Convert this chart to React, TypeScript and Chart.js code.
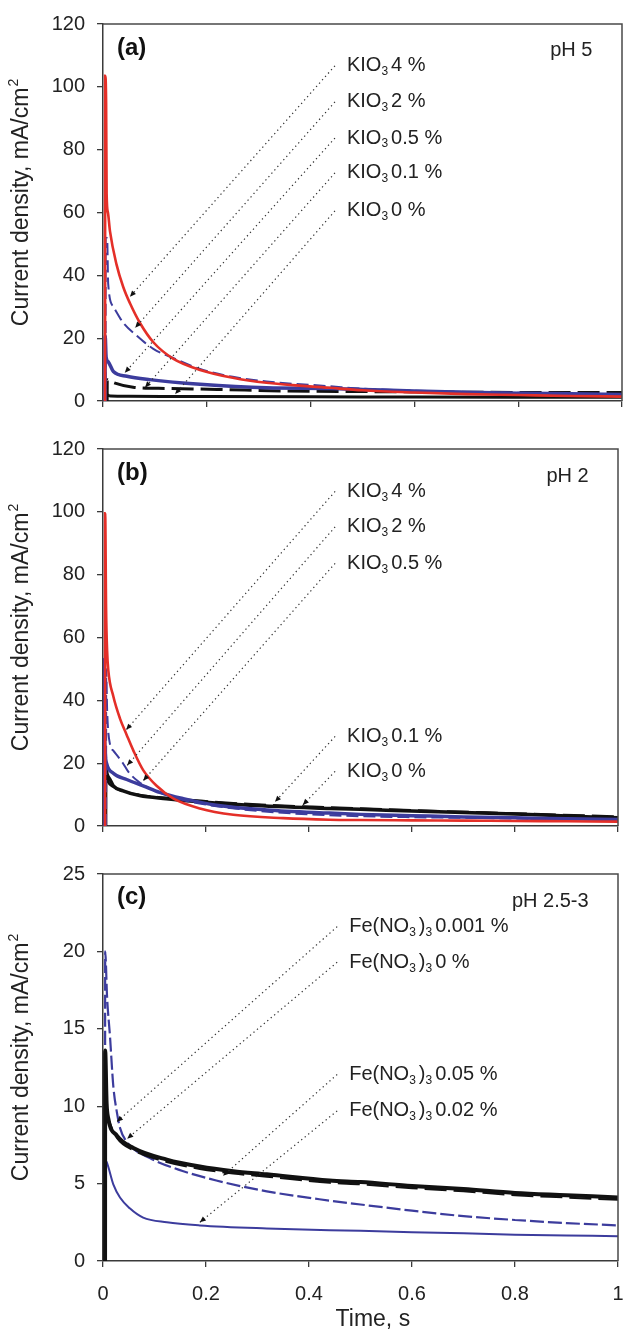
import React, { useEffect, useRef } from 'react';
import { Chart, registerables } from 'chart.js';

Chart.register(...registerables);

const FONT = 'Arial, "Liberation Sans", Helvetica, sans-serif';
const RED = '#e42f28';
const BLUE = '#3c3c9d';
const BLACK = '#111111';
const AXIS = '#3a3a3a';
const TEXT = '#222222';

// ---------- axis ticks ----------
const X_MIN = 0;
const X_MAX = 1;
const X_STEP = 0.2;
const Y_MAX_AB = 120;
const Y_STEP_AB = 20;
const Y_MAX_C = 25;
const Y_STEP_C = 5;

// ---------- Panel (a) pH 5 ----------
const A_KIO3_4_T = [0.004, 0.0042, 0.006, 0.007, 0.0095, 0.0135, 0.026, 0.039, 0.052, 0.071, 0.097, 0.135, 0.187, 0.25, 0.315, 0.437, 0.5, 0.6, 0.7, 0.8, 0.9, 1.0];
const A_KIO3_4_V = [0, 103.5, 95, 66, 60, 54, 43.5, 36.3, 31.1, 24.9, 18.7, 13.5, 9.9, 7.4, 5.8, 4.2, 3.4, 2.7, 2.2, 1.9, 1.6, 1.4];
const A_KIO3_2_T = [0.005, 0.0052, 0.008, 0.01, 0.02, 0.039, 0.065, 0.097, 0.135, 0.187, 0.25, 0.315, 0.437, 0.5, 0.6, 0.7, 0.8, 0.9, 1.0];
const A_KIO3_2_V = [0, 52, 51.8, 37.3, 30, 24.9, 20.8, 16.6, 13.7, 10.2, 7.7, 6.2, 4.7, 3.9, 3.3, 2.9, 2.6, 2.3, 2.1];
const A_KIO3_05_T = [0.004, 0.0042, 0.006, 0.01, 0.02, 0.046, 0.09, 0.187, 0.315, 0.437, 0.5, 0.6, 0.7, 0.8, 0.9, 1.0];
const A_KIO3_05_V = [0, 20.8, 14, 12.5, 9.4, 7.9, 6.8, 5.3, 4.2, 4.0, 3.7, 3.2, 2.8, 2.5, 2.3, 2.1];
const A_KIO3_01_T = [0.008, 0.0082, 0.0135, 0.058, 0.122, 0.22, 0.35, 0.5, 0.7, 0.85, 1.0];
const A_KIO3_01_V = [0, 6.8, 6.3, 4.4, 4.0, 3.7, 3.2, 3.0, 2.8, 2.7, 2.7];
const A_KIO3_0_T = [0.005, 0.0052, 0.008, 0.015, 0.05, 0.2, 0.5, 0.8, 1.0];
const A_KIO3_0_V = [0, 3, 2, 1.6, 1.5, 1.4, 1.3, 1.2, 1.2];

const A_LABEL_TEXT = ['4 %', '2 %', '0.5 %', '0.1 %', '0 %'];
const A_LABEL_T = 0.47;
const A_LABEL_V = [106.7, 95.2, 83.7, 72.6, 60.5];
const A_ARROW_T = [0.052, 0.062, 0.042, 0.081, 0.139];
const A_ARROW_V = [33.2, 23.3, 9.0, 4.3, 2.2];

// ---------- Panel (b) pH 2 ----------
const B_KIO3_4_T = [0.004, 0.0042, 0.006, 0.008, 0.0103, 0.02, 0.033, 0.046, 0.059, 0.078, 0.104, 0.137, 0.188, 0.253, 0.35, 0.44, 0.5, 0.6, 0.7, 0.8, 0.9, 1.0];
const B_KIO3_4_V = [0, 99.5, 69, 55.7, 49.5, 41.3, 34.2, 29, 24, 17.8, 12.8, 8.7, 5.6, 3.6, 2.5, 2.0, 1.9, 1.8, 1.7, 1.6, 1.5, 1.4];
const B_KIO3_2_T = [0.006, 0.0062, 0.008, 0.0136, 0.02, 0.039, 0.049, 0.07, 0.1, 0.15, 0.2, 0.3, 0.4, 0.5, 0.6, 0.7, 0.8, 0.9, 1.0];
const B_KIO3_2_V = [0, 50, 37, 26, 24, 19.9, 17.3, 14, 11.3, 8.5, 6.8, 4.8, 3.7, 3.1, 2.8, 2.6, 2.4, 2.2, 2.1];
const B_KIO3_05_T = [0.002, 0.0022, 0.003, 0.007, 0.02, 0.046, 0.078, 0.11, 0.156, 0.22, 0.318, 0.44, 0.5, 0.6, 0.7, 0.8, 0.9, 1.0];
const B_KIO3_05_V = [0, 53, 30, 19.9, 16.8, 14.8, 12.8, 10.7, 8.7, 6.6, 5.1, 4.1, 3.7, 3.3, 2.9, 2.6, 2.3, 2.1];
const B_KIO3_01_T = [0.005, 0.0052, 0.01, 0.02, 0.04, 0.07, 0.12, 0.19, 0.29, 0.44, 0.6, 0.8, 1.0];
const B_KIO3_01_V = [0, 17, 14, 12.5, 11, 9.9, 9.0, 8.0, 6.9, 5.9, 5.0, 4.0, 3.0];
const B_KIO3_0_T = [0.005, 0.0052, 0.008, 0.0136, 0.02, 0.039, 0.071, 0.123, 0.187, 0.285, 0.44, 0.5, 0.6, 0.7, 0.8, 0.9, 1.0];
const B_KIO3_0_V = [0, 19, 16.5, 14.8, 12.8, 11.2, 9.7, 8.7, 7.7, 6.6, 5.6, 5.3, 4.8, 4.3, 3.8, 3.2, 2.6];

const B_LABEL_TEXT = ['4 %', '2 %', '0.5 %', '0.1 %', '0 %'];
const B_LABEL_T = 0.474;
const B_LABEL_V = [106.5, 95.2, 83.6, 28.5, 17.4];
const B_ARROW_T = [0.045, 0.047, 0.078, 0.334, 0.388];
const B_ARROW_V = [30.6, 19.3, 14.4, 7.7, 6.7];

// ---------- Panel (c) pH 2.5-3 ----------
const C_FE_0001_T = [0.004, 0.0042, 0.008, 0.0136, 0.02, 0.027, 0.033, 0.046, 0.091, 0.156, 0.22, 0.318, 0.44, 0.5, 0.6, 0.7, 0.8, 0.9, 1.0];
const C_FE_0001_V = [0, 20, 17, 14.5, 11.3, 9.6, 8.6, 7.7, 6.65, 5.8, 5.2, 4.5, 3.9, 3.65, 3.25, 2.9, 2.65, 2.45, 2.3];
const C_FE_0_T = [0.004, 0.0042, 0.007, 0.0103, 0.027, 0.059, 0.124, 0.188, 0.253, 0.318, 0.44, 0.5, 0.6, 0.7, 0.8, 0.9, 1.0];
const C_FE_0_V = [0, 13.6, 10.2, 9.2, 8.1, 7.3, 6.55, 6.1, 5.8, 5.6, 5.2, 5.1, 4.85, 4.65, 4.4, 4.25, 4.1];
const C_FE_005_T = [0.005, 0.0052, 0.008, 0.0136, 0.027, 0.059, 0.124, 0.188, 0.253, 0.318, 0.44, 0.5, 0.6, 0.7, 0.8, 0.9, 1.0];
const C_FE_005_V = [0, 11.5, 9.6, 8.9, 7.95, 7.15, 6.4, 5.95, 5.65, 5.45, 5.05, 4.95, 4.7, 4.5, 4.25, 4.1, 3.95];
const C_FE_002_T = [0.004, 0.0042, 0.007, 0.02, 0.033, 0.052, 0.078, 0.124, 0.188, 0.318, 0.44, 0.5, 0.6, 0.7, 0.8, 0.9, 1.0];
const C_FE_002_V = [0, 6.5, 6.4, 4.95, 4.1, 3.4, 2.8, 2.5, 2.3, 2.1, 1.98, 1.95, 1.85, 1.8, 1.7, 1.65, 1.6];

const C_LABEL_TEXT = ['0.001 %', '0 %', '0.05 %', '0.02 %'];
const C_LABEL_T = 0.478;
const C_LABEL_V = [21.6, 19.3, 12.05, 9.7];
const C_ARROW_T = [0.027, 0.047, 0.233, 0.188];
const C_ARROW_V = [9.0, 7.9, 5.5, 2.5];

const Y_TITLE = 'Current density, mA/cm';
const Y_TITLE_SUP = '2';
const X_TITLE = 'Time, s';

// ---------- helpers ----------
type Seg = { s: string; sub?: boolean };
const kio3 = (rest: string): Seg[] => [{ s: 'KIO' }, { s: '3', sub: true }, { s: rest }];
const feno = (rest: string): Seg[] => [{ s: 'Fe(NO' }, { s: '3', sub: true }, { s: ')' }, { s: '3', sub: true }, { s: rest }];

const pts = (t: number[], v: number[]) => t.map((x, i) => ({ x, y: v[i] }));

const line = (t: number[], v: number[], color: string, width: number, dash: number[] = []) => ({
  data: pts(t, v),
  borderColor: color,
  backgroundColor: color,
  borderWidth: width,
  borderDash: dash,
  pointRadius: 0,
  fill: false,
  cubicInterpolationMode: 'monotone' as const,
});

type Label = { parts: Seg[]; t: number; v: number; at: number; av: number };

interface PanelCfg {
  top: number;
  height: number;
  padTop: number;
  padRight: number;
  xAxisH: number;
  yMax: number;
  yStep: number;
  showX: boolean;
  datasets: any[];
  labels: Label[];
  tag: string;
  tagV: number;
  ph: string;
  phV: number;
}

const mkLabels = (texts: string[], lt: number, lv: number[], at: number[], av: number[], f: (r: string) => Seg[]): Label[] =>
  texts.map((s, i) => ({ parts: f(s), t: lt, v: lv[i], at: at[i], av: av[i] }));

const PANELS: PanelCfg[] = [
  {
    top: 0, height: 425, padTop: 20, padRight: 2, xAxisH: 18, yMax: Y_MAX_AB, yStep: Y_STEP_AB, showX: false,
    datasets: [
      line(A_KIO3_4_T, A_KIO3_4_V, RED, 2.6),
      line(A_KIO3_2_T, A_KIO3_2_V, BLUE, 2, [12, 5]),
      line(A_KIO3_05_T, A_KIO3_05_V, BLUE, 3.5),
      line(A_KIO3_01_T, A_KIO3_01_V, BLACK, 3, [22, 7]),
      line(A_KIO3_0_T, A_KIO3_0_V, BLACK, 3),
    ],
    labels: mkLabels(A_LABEL_TEXT, A_LABEL_T, A_LABEL_V, A_ARROW_T, A_ARROW_V, kio3),
    tag: '(a)', tagV: 112.2, ph: 'pH 5', phV: 111.5,
  },
  {
    top: 425, height: 425, padTop: 18, padRight: 6, xAxisH: 15, yMax: Y_MAX_AB, yStep: Y_STEP_AB, showX: false,
    datasets: [
      line(B_KIO3_4_T, B_KIO3_4_V, RED, 2.6),
      line(B_KIO3_2_T, B_KIO3_2_V, BLUE, 2, [12, 5]),
      line(B_KIO3_05_T, B_KIO3_05_V, BLUE, 3.5),
      line(B_KIO3_01_T, B_KIO3_01_V, BLACK, 2.5, [22, 7]),
      line(B_KIO3_0_T, B_KIO3_0_V, BLACK, 3.5),
    ],
    labels: mkLabels(B_LABEL_TEXT, B_LABEL_T, B_LABEL_V, B_ARROW_T, B_ARROW_V, kio3),
    tag: '(b)', tagV: 112.3, ph: 'pH 2', phV: 111.1,
  },
  {
    top: 850, height: 480, padTop: 19, padRight: 6, xAxisH: 69, yMax: Y_MAX_C, yStep: Y_STEP_C, showX: true,
    datasets: [
      line(C_FE_0_T, C_FE_0_V, BLACK, 4),
      line(C_FE_005_T, C_FE_005_V, BLACK, 2, [22, 7]),
      line(C_FE_0001_T, C_FE_0001_V, BLUE, 2.2, [14, 4]),
      line(C_FE_002_T, C_FE_002_V, BLUE, 2),
    ],
    labels: mkLabels(C_LABEL_TEXT, C_LABEL_T, C_LABEL_V, C_ARROW_T, C_ARROW_V, feno),
    tag: '(c)', tagV: 23.5, ph: 'pH 2.5-3', phV: 23.2,
  },
];

function drawRich(ctx: CanvasRenderingContext2D, parts: Seg[], x: number, y: number) {
  let cx = x;
  for (const p of parts) {
    if (p.sub) {
      ctx.font = `12px ${FONT}`;
      ctx.fillText(p.s, cx, y + 6);
      cx += ctx.measureText(p.s).width + 3;
    } else {
      ctx.font = `20px ${FONT}`;
      ctx.fillText(p.s, cx, y);
      cx += ctx.measureText(p.s).width;
    }
  }
}

function makeOverlay(cfg: PanelCfg) {
  return {
    id: 'overlay',
    afterDraw(chart: any) {
      const { ctx, chartArea: ca, scales } = chart;
      const xs = scales.x;
      const ys = scales.y;
      ctx.save();
      // frame (top + right)
      ctx.strokeStyle = '#4a4a4a';
      ctx.lineWidth = 1.5;
      ctx.setLineDash([]);
      ctx.beginPath();
      ctx.moveTo(ca.left, ca.top);
      ctx.lineTo(ca.right, ca.top);
      ctx.lineTo(ca.right, ca.bottom);
      ctx.stroke();

      // y-axis title with superscript
      ctx.save();
      const cy = (ca.top + ca.bottom) / 2 - 10;
      ctx.translate(22, cy);
      ctx.rotate(-Math.PI / 2);
      ctx.fillStyle = TEXT;
      ctx.textBaseline = 'middle';
      ctx.textAlign = 'left';
      ctx.font = `23px ${FONT}`;
      const w1 = ctx.measureText(Y_TITLE).width;
      ctx.font = `14px ${FONT}`;
      const w2 = ctx.measureText(Y_TITLE_SUP).width;
      const x0 = -(w1 + w2 + 1) / 2;
      ctx.font = `23px ${FONT}`;
      ctx.fillText(Y_TITLE, x0, 0);
      ctx.font = `14px ${FONT}`;
      ctx.fillText(Y_TITLE_SUP, x0 + w1 + 1, -8);
      ctx.restore();

      // x-axis title (bottom panel only)
      if (cfg.showX) {
        ctx.font = `23px ${FONT}`;
        ctx.fillStyle = TEXT;
        ctx.textAlign = 'center';
        ctx.textBaseline = 'middle';
        ctx.fillText(X_TITLE, ca.left + (ca.right - ca.left) * 0.524, ca.bottom + 59);
      }

      // annotation labels with dotted leader lines
      ctx.fillStyle = TEXT;
      ctx.textBaseline = 'middle';
      ctx.textAlign = 'left';
      for (const l of cfg.labels) {
        const tx = xs.getPixelForValue(l.t);
        const ty = ys.getPixelForValue(l.v);
        const ax = xs.getPixelForValue(l.at);
        const ay = ys.getPixelForValue(l.av);
        const sx = tx - 12;
        const sy = ty;
        ctx.strokeStyle = '#333';
        ctx.lineWidth = 1.2;
        ctx.setLineDash([1.3, 3.2]);
        ctx.beginPath();
        ctx.moveTo(sx, sy);
        ctx.lineTo(ax, ay);
        ctx.stroke();
        ctx.setLineDash([]);
        const ang = Math.atan2(ay - sy, ax - sx);
        const len = 6;
        const hw = 2.6;
        ctx.fillStyle = '#111';
        ctx.beginPath();
        ctx.moveTo(ax, ay);
        ctx.lineTo(ax - len * Math.cos(ang) + hw * Math.sin(ang), ay - len * Math.sin(ang) - hw * Math.cos(ang));
        ctx.lineTo(ax - len * Math.cos(ang) - hw * Math.sin(ang), ay - len * Math.sin(ang) + hw * Math.cos(ang));
        ctx.closePath();
        ctx.fill();
        ctx.fillStyle = TEXT;
        drawRich(ctx, l.parts, tx, ty);
      }

      // panel tag
      ctx.font = `bold 24px ${FONT}`;
      ctx.fillStyle = '#111';
      ctx.textAlign = 'left';
      ctx.fillText(cfg.tag, ca.left + 14, ys.getPixelForValue(cfg.tagV));

      // pH label
      ctx.font = `20px ${FONT}`;
      ctx.fillStyle = TEXT;
      ctx.textAlign = 'right';
      ctx.fillText(cfg.ph, ca.left + (ca.right - ca.left) * 0.943, ys.getPixelForValue(cfg.phV));
      ctx.restore();
    },
  };
}

function Panel({ cfg }: { cfg: PanelCfg }) {
  const ref = useRef<HTMLCanvasElement>(null);
  useEffect(() => {
    const chart = new Chart(ref.current as HTMLCanvasElement, {
      type: 'line',
      data: { datasets: cfg.datasets },
      options: {
        animation: false,
        responsive: false,
        maintainAspectRatio: false,
        layout: { padding: { top: cfg.padTop, right: cfg.padRight, left: 0, bottom: 0 } },
        plugins: { legend: { display: false }, tooltip: { enabled: false } },
        scales: {
          x: {
            type: 'linear',
            min: X_MIN,
            max: X_MAX,
            ticks: {
              stepSize: X_STEP,
              display: cfg.showX,
              color: TEXT,
              font: { family: FONT, size: 20 },
              padding: 15,
              maxRotation: 0,
              callback: (v: any) => String(Math.round(Number(v) * 10) / 10),
            },
            grid: { drawOnChartArea: false, drawTicks: true, tickLength: 6, color: AXIS, lineWidth: 1.3 },
            border: { display: true, color: AXIS, width: 1.5 },
            title: { display: false },
            afterFit: (s: any) => {
              s.height = cfg.xAxisH;
              s.paddingLeft = 0;
              s.paddingRight = 0;
            },
          },
          y: {
            type: 'linear',
            min: 0,
            max: cfg.yMax,
            ticks: {
              stepSize: cfg.yStep,
              color: TEXT,
              font: { family: FONT, size: 20 },
              padding: 12,
            },
            grid: { drawOnChartArea: false, drawTicks: true, tickLength: 6, color: AXIS, lineWidth: 1.3 },
            border: { display: true, color: AXIS, width: 1.5 },
            title: { display: false },
            afterFit: (s: any) => {
              s.width = 103;
            },
          },
        },
      } as any,
      plugins: [makeOverlay(cfg)],
    });
    return () => chart.destroy();
  }, [cfg]);
  return (
    <canvas
      ref={ref}
      width={624}
      height={cfg.height}
      style={{ position: 'absolute', left: 0, top: cfg.top, width: 624, height: cfg.height, display: 'block' }}
    />
  );
}

export default function App() {
  return (
    <div style={{ position: 'absolute', left: 0, top: 0, width: 624, height: 1330, background: '#fff', overflow: 'hidden' }}>
      {PANELS.map((p, i) => (
        <Panel key={i} cfg={p} />
      ))}
    </div>
  );
}
